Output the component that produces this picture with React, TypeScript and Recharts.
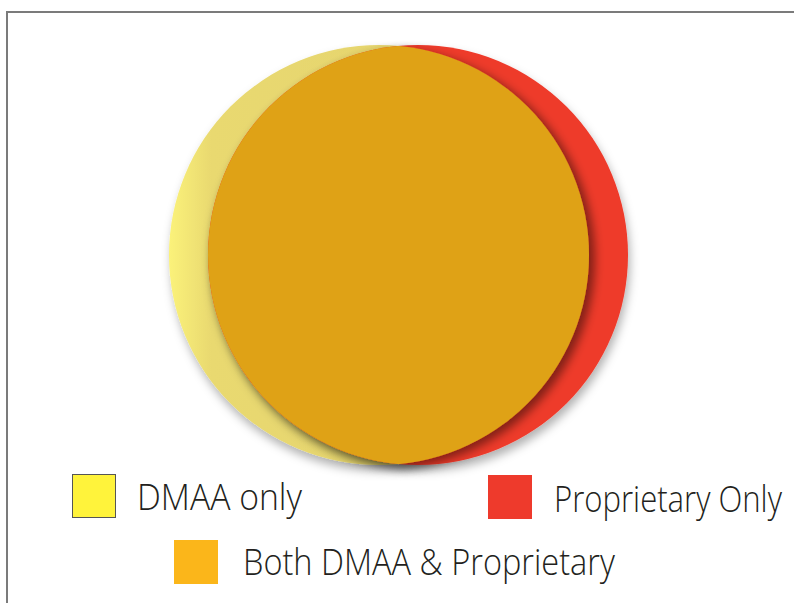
import React, { useLayoutEffect, useRef, useState } from 'react'
import { ScatterChart, Scatter, XAxis, YAxis, ZAxis } from 'recharts'

// sets of the diagram, coordinates in page units
const setNames = ['DMAA only', 'Proprietary Only', 'Both DMAA & Proprietary']
const centerX = [379, 418]
const centerY = [255, 255]
const radius = [210, 210]
const swatchColors = ['#fff33b', '#ee3a2c', '#fbb61a']

const dmaaData = [{ x: centerX[0], y: centerY[0], r: radius[0] }]
const propData = [{ x: centerX[1], y: centerY[1], r: radius[1] }]
// intersection: the proprietary circle clipped by the DMAA circle
const bothData = [{ x: centerX[1], y: centerY[1], r: radius[1] }]

const W = 794
const H = 603

function pixelRadius(props: any): number {
  if (typeof props.size === 'number') return props.size
  return Math.pow(props.width / 2, 2) * Math.PI
}

const DmaaShape = (props: any) => {
  const r = pixelRadius(props)
  return (
    <g>
      <defs>
        <clipPath id="clip-dmaa">
          <circle cx={props.cx} cy={props.cy} r={r} />
        </clipPath>
      </defs>
      <circle cx={props.cx} cy={props.cy} r={r} fill="url(#yellowFill)" filter="url(#outerShadow)" />
    </g>
  )
}

const PropShape = (props: any) => {
  const r = pixelRadius(props)
  return <circle cx={props.cx} cy={props.cy} r={r} fill="#ee3a2c" filter="url(#outerShadow)" />
}

const BothShape = (props: any) => {
  const r = pixelRadius(props)
  return (
    <g filter="url(#lensShadow)">
      <circle cx={props.cx} cy={props.cy} r={r} fill="#dfa216" clipPath="url(#clip-dmaa)" />
    </g>
  )
}

// legend layout: swatch box, text baseline and text width
const legendItems = [
  { name: setNames[0], color: swatchColors[0], box: [72, 474], text: [137, 510], width: 165, border: true },
  { name: setNames[1], color: swatchColors[1], box: [488, 475], text: [554, 512], width: 228, border: false },
  { name: setNames[2], color: swatchColors[2], box: [174, 540], text: [243, 575], width: 372, border: false },
]

// condensed label: measured once, then squeezed to the wanted width
function FitText({ x, y, width, children }: { x: number; y: number; width: number; children: string }) {
  const ref = useRef<SVGTextElement>(null)
  const [k, setK] = useState(0.85)
  useLayoutEffect(() => {
    if (ref.current) {
      const natural = ref.current.getComputedTextLength()
      if (natural > 0) setK(width / natural)
    }
  }, [width])
  return (
    <text
      ref={ref}
      transform={`translate(${x},${y}) scale(${k},1)`}
      fontFamily='"Open Sans", sans-serif'
      fontWeight={300}
      fontSize={37}
      fill="#231f20"
    >
      {children}
    </text>
  )
}

export default function App() {
  return (
    <div style={{ position: 'absolute', left: 0, top: 0, width: W, height: H, overflow: 'hidden', background: '#fff' }}>
      <div
        style={{
          position: 'absolute',
          left: 6,
          top: 11,
          width: 820,
          height: 640,
          border: '2px solid #7b7b7b',
        }}
      />
      <div style={{ position: 'absolute', left: 0, top: 0 }}>
        <ScatterChart width={W} height={H} margin={{ top: 0, right: 0, bottom: 0, left: 0 }}>
          <defs>
            <linearGradient id="yellowFill" x1="0" y1="0" x2="1" y2="0">
              <stop offset="0" stopColor="#fbf27a" />
              <stop offset="0.1" stopColor="#e9d970" />
              <stop offset="1" stopColor="#e2d06b" />
            </linearGradient>
            <filter id="outerShadow" x="-20%" y="-20%" width="140%" height="140%">
              <feDropShadow dx="2" dy="6" stdDeviation="5" floodColor="#000" floodOpacity="0.3" />
            </filter>
            <filter id="lensShadow" x="-20%" y="-20%" width="140%" height="140%">
              <feDropShadow dx="6" dy="4" stdDeviation="5" floodColor="#000" floodOpacity="0.45" />
            </filter>
          </defs>
          <XAxis type="number" dataKey="x" domain={[0, W]} hide />
          <YAxis type="number" dataKey="y" domain={[0, H]} reversed hide />
          <ZAxis type="number" dataKey="r" domain={[0, W]} range={[0, W]} />
          <Scatter name={setNames[0]} data={dmaaData} shape={DmaaShape} isAnimationActive={false} />
          <Scatter name={setNames[1]} data={propData} shape={PropShape} isAnimationActive={false} />
          <Scatter name={setNames[2]} data={bothData} shape={BothShape} isAnimationActive={false} />
        </ScatterChart>
      </div>
      <svg width={W} height={H} style={{ position: 'absolute', left: 0, top: 0 }}>
        {legendItems.map((item) => (
          <g key={item.name}>
            <rect
              x={item.box[0] + (item.border ? 0.5 : 0)}
              y={item.box[1] + (item.border ? 0.5 : 0)}
              width={item.border ? 43 : 44}
              height={item.border ? 43 : 44}
              fill={item.color}
              stroke={item.border ? '#555' : 'none'}
              strokeWidth={1}
            />
            <FitText x={item.text[0]} y={item.text[1]} width={item.width}>
              {item.name}
            </FitText>
          </g>
        ))}
      </svg>
    </div>
  )
}
